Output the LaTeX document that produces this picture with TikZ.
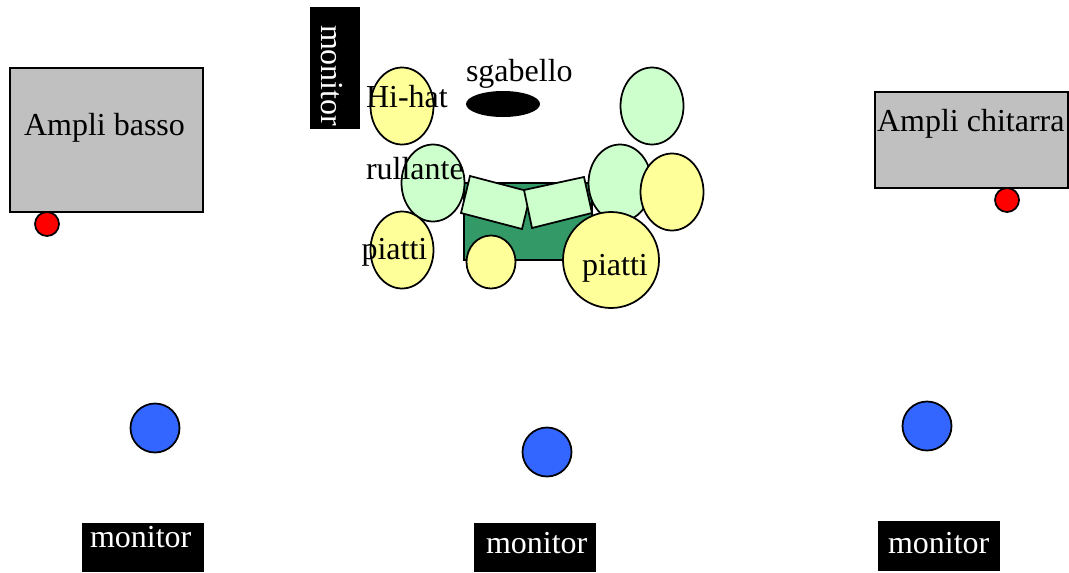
\documentclass[tikz,border=0pt]{standalone}
\usepackage{fontspec}
\setmainfont{Liberation Serif}
\tikzset{
  outl/.style={draw=black,line width=1.75*0.75pt},
  amp/.style={outl,fill=ampgrey},
  drum/.style={outl,fill=drumgreen},
  cym/.style={outl,fill=cymyellow},
  dotred/.style={outl,fill=red},
  dotblue/.style={outl,fill=mikeblue},
  lbl/.style={anchor=base west,inner sep=0pt,outer sep=0pt,font=\fontsize{24}{24}\selectfont},
  wlbl/.style={lbl,text=white},
}
\definecolor{ampgrey}{HTML}{C0C0C0}
\definecolor{drumgreen}{HTML}{CCFFCC}
\definecolor{cymyellow}{HTML}{FFFF99}
\definecolor{mikeblue}{HTML}{3366FF}
\definecolor{kitgreen}{HTML}{339966}
\begin{document}
\begin{tikzpicture}[x=0.75pt,y=-0.75pt]
\useasboundingbox (0,0) rectangle (1069,572);
% amps
\draw[amp] (10,68) rectangle (203,212);
\draw[amp] (875,92) rectangle (1068,188);
\draw[dotred] (47,224) circle[radius=12*0.75pt];
\draw[dotred] (1007,200) circle[radius=12*0.75pt];
% monitors
\fill[black] (310,7) rectangle (359.5,129);
\fill[black] (82,523) rectangle (204,572);
\fill[black] (474,523) rectangle (596,572);
\fill[black] (878,521) rectangle (1000,571);
% mics
\draw[dotblue] (155,428) circle[radius=24.5*0.75pt];
\draw[dotblue] (547,452) circle[radius=24.5*0.75pt];
\draw[dotblue] (927,426) circle[radius=24.5*0.75pt];
% kit
\draw[outl,fill=kitgreen] (464,183) rectangle (592,260);
\draw[cym] (402,106) ellipse[x radius=31.5*0.75pt,y radius=38.5*0.75pt];
\draw[drum] (433,183) ellipse[x radius=31.5*0.75pt,y radius=38.5*0.75pt];
\draw[cym] (402,250) ellipse[x radius=31.5*0.75pt,y radius=38.5*0.75pt];
\draw[drum] (652,106) ellipse[x radius=31.5*0.75pt,y radius=38.5*0.75pt];
\draw[drum] (620,183) ellipse[x radius=31.5*0.75pt,y radius=38.5*0.75pt];
\draw[cym] (672,192) ellipse[x radius=31.5*0.75pt,y radius=38.5*0.75pt];
\fill[black] (503,104) ellipse[x radius=37*0.75pt,y radius=13*0.75pt];
\draw[drum] (470,176) -- (531,192) -- (522,229) -- (461,213) -- cycle;
\draw[drum] (584,177) -- (524,190) -- (532,228) -- (592,213) -- cycle;
\draw[cym] (491,262) ellipse[x radius=24.5*0.75pt,y radius=26.5*0.75pt];
\draw[cym] (611,260) circle[radius=48*0.75pt];
% labels
\node[lbl] (ab) at (24,135) {Ampli basso};
\node[lbl] (ac) at (877,131) {Ampli chitarra};
\node[lbl] (sg) at (466,81) {sgabello};
\node[lbl] (hh) at (366,107) {Hi-hat};
\node[lbl] (ru) at (366,179) {rullante};
\node[lbl] (pl) at (361.5,259) {piatti};
\node[lbl] (pr) at (582,275) {piatti};
\node[wlbl] (m1) at (90,547) {monitor};
\node[wlbl] (m2) at (486,553) {monitor};
\node[wlbl] (m3) at (888,553) {monitor};
\node[wlbl,rotate=-90] (m4) at (321,25) {monitor};
\end{tikzpicture}
\end{document}
